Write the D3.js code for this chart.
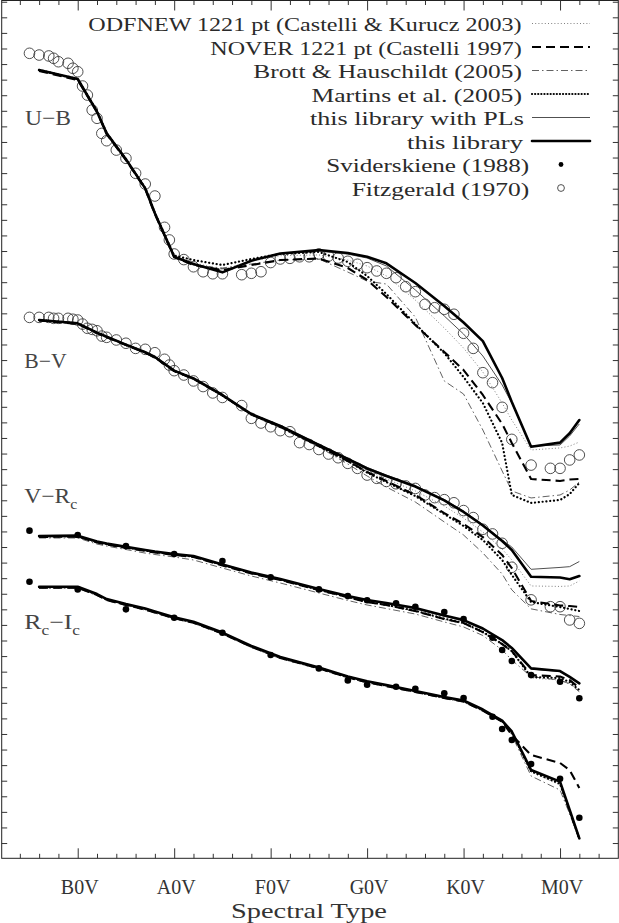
<!DOCTYPE html>
<html><head><meta charset="utf-8">
<script src="https://cdn.jsdelivr.net/npm/d3@7"></script>
<style>html,body{margin:0;padding:0;background:#fff;} svg{display:block;font-family:"Liberation Serif","DejaVu Serif",serif;}</style>
</head><body><svg id="c" width="619" height="923"></svg>
<script>
// ---------- DATA ----------
// spectral type code: O=0, B=10, A=20, F=30, G=40, K=50, M=60 (+subtype)
const sptGrid = [6,10,12,13,15,17,18,20,22,25,28,31,35,38,40,42,45,48,50,52,54,55,57,60,61,62];
const majorTicks = [10,20,30,40,50,60];
const tickLabels = ['B0V','A0V','F0V','G0V','K0V','M0V'];
const colorNames = ['U\u2212B','B\u2212V','V\u2212R','R\u2212I'];
const colorOffsets = [0, 0.75, 1.9, 2.35];   // vertical shifts of each colour

// U-B
const ubLib     = [-1.162,-1.104,-0.894,-0.755,-0.589,-0.402,-0.242,0.037,0.083,0.137,0.062,0.016,-0.006,0.013,0.037,0.079,0.205,0.353,0.459,0.578,0.815,0.969,1.256,1.230,1.170,1.085];
const ubPL      = [-1.162,-1.104,-0.894,-0.755,-0.589,-0.402,-0.242,0.037,0.083,0.135,0.062,0.018,0.000,0.020,0.045,0.096,0.250,0.417,0.533,0.674,0.860,0.976,1.252,1.245,1.187,1.110];
const ubODF     = [-1.158,-1.100,-0.892,-0.753,-0.587,-0.400,-0.240,0.035,0.075,0.120,0.065,0.030,0.025,0.058,0.096,0.160,0.315,0.494,0.623,0.777,0.976,1.085,1.277,1.264,1.252,1.226];
const ubNOVER   = [-1.155,-1.098,-0.892,-0.751,-0.584,-0.398,-0.237,0.039,0.090,0.122,0.090,0.058,0.048,0.109,0.186,0.295,0.475,0.648,0.764,0.924,1.110,1.232,1.463,1.476,1.467,1.463];
const ubMartins = [-1.162,-1.104,-0.899,-0.757,-0.590,-0.404,-0.244,0.029,0.058,0.090,0.051,0.019,0.006,0.071,0.160,0.276,0.469,0.655,0.809,0.976,1.232,1.566,1.617,1.598,1.560,1.489];
const ubBrott   = [-1.155,-1.098,-0.892,-0.751,-0.584,-0.398,-0.237,0.039,0.090,0.109,0.083,0.058,0.051,0.135,0.193,0.212,0.424,0.834,0.918,1.149,1.412,1.540,1.585,1.566,1.534,1.483];
// B-V
const bvLib     = [-0.307,-0.286,-0.226,-0.200,-0.149,-0.100,-0.070,0.018,0.068,0.174,0.296,0.373,0.495,0.585,0.646,0.694,0.762,0.851,0.925,1.012,1.111,1.169,1.341,1.346,1.357,1.336];
const bvPL      = [-0.307,-0.286,-0.226,-0.200,-0.149,-0.100,-0.070,0.018,0.068,0.174,0.296,0.370,0.490,0.580,0.639,0.688,0.755,0.845,0.919,1.005,1.105,1.150,1.293,1.281,1.276,1.243];
const bvODF     = [-0.304,-0.283,-0.223,-0.197,-0.146,-0.097,-0.067,0.021,0.071,0.177,0.299,0.378,0.500,0.591,0.659,0.713,0.790,0.887,0.964,1.054,1.163,1.233,1.400,1.403,1.400,1.368];
const bvNOVER   = [-0.304,-0.283,-0.223,-0.197,-0.146,-0.097,-0.067,0.021,0.071,0.177,0.299,0.378,0.502,0.598,0.668,0.726,0.816,0.932,1.002,1.086,1.201,1.285,1.497,1.525,1.529,1.535];
const bvMartins = [-0.307,-0.286,-0.226,-0.200,-0.149,-0.100,-0.070,0.018,0.068,0.177,0.299,0.378,0.502,0.598,0.672,0.733,0.823,0.938,1.015,1.105,1.233,1.329,1.503,1.535,1.548,1.561];
const bvBrott   = [-0.300,-0.280,-0.220,-0.194,-0.143,-0.094,-0.064,0.024,0.074,0.183,0.305,0.385,0.508,0.617,0.694,0.765,0.861,0.989,1.073,1.188,1.323,1.425,1.547,1.583,1.590,1.596];
// V-Rc
const vrLib     = [-0.071,-0.073,-0.035,-0.022,-0.001,0.019,0.029,0.045,0.058,0.112,0.164,0.205,0.270,0.315,0.340,0.359,0.392,0.440,0.469,0.523,0.597,0.648,0.779,0.796,0.834,0.875];
const vrPL      = [-0.068,-0.070,-0.032,-0.019,0.002,0.022,0.032,0.048,0.061,0.115,0.167,0.208,0.273,0.318,0.343,0.362,0.396,0.444,0.474,0.528,0.602,0.653,0.783,0.799,0.836,0.877];
const vrODF     = [-0.065,-0.067,-0.029,-0.016,0.005,0.025,0.035,0.051,0.064,0.118,0.170,0.212,0.278,0.324,0.356,0.376,0.414,0.466,0.493,0.551,0.628,0.672,0.841,0.854,0.879,0.918];
const vrNOVER   = [-0.065,-0.067,-0.029,-0.016,0.005,0.025,0.035,0.051,0.064,0.118,0.170,0.211,0.276,0.322,0.353,0.372,0.411,0.462,0.488,0.546,0.623,0.668,0.822,0.831,0.854,0.905];
const vrMartins = [-0.068,-0.070,-0.032,-0.019,0.002,0.022,0.032,0.048,0.061,0.115,0.167,0.209,0.275,0.321,0.352,0.371,0.409,0.460,0.487,0.545,0.622,0.668,0.834,0.841,0.867,0.918];
const vrBrott   = [-0.058,-0.058,-0.019,-0.006,0.016,0.039,0.048,0.064,0.083,0.135,0.186,0.231,0.295,0.343,0.372,0.395,0.430,0.481,0.513,0.568,0.661,0.725,0.832,0.854,0.879,0.929];
// Rc-Ic
const riLib     = [-0.195,-0.195,-0.148,-0.116,-0.084,-0.055,-0.036,0.001,0.030,0.099,0.185,0.256,0.323,0.381,0.412,0.436,0.474,0.513,0.535,0.593,0.664,0.734,0.981,1.056,1.238,1.420];
const riPL      = [-0.195,-0.195,-0.148,-0.116,-0.084,-0.055,-0.036,0.001,0.030,0.099,0.185,0.256,0.323,0.381,0.412,0.436,0.474,0.513,0.537,0.596,0.668,0.738,0.985,1.060,1.242,1.424];
const riODF     = [-0.189,-0.189,-0.142,-0.110,-0.078,-0.049,-0.030,0.007,0.036,0.105,0.191,0.262,0.329,0.387,0.418,0.442,0.480,0.519,0.542,0.600,0.672,0.745,0.994,1.078,1.251,1.425];
const riNOVER   = [-0.189,-0.189,-0.142,-0.110,-0.078,-0.049,-0.030,0.007,0.036,0.105,0.191,0.262,0.329,0.387,0.418,0.442,0.480,0.519,0.542,0.600,0.672,0.757,0.885,0.936,0.982,1.097];
const riMartins = [-0.192,-0.192,-0.145,-0.113,-0.081,-0.052,-0.033,0.004,0.033,0.102,0.188,0.259,0.326,0.384,0.415,0.439,0.477,0.516,0.539,0.597,0.668,0.740,0.990,1.070,1.246,1.423];
const riBrott   = [-0.185,-0.185,-0.138,-0.106,-0.074,-0.045,-0.026,0.011,0.040,0.109,0.195,0.266,0.333,0.391,0.422,0.446,0.484,0.523,0.546,0.604,0.673,0.757,1.020,1.110,1.264,1.431];

// Fitzgerald (1970): U-B and B-V
const fitzSpT = [5,6,7,7.5,8,9,9.5,10,10.5,11,11.5,12,12.5,13,14,15,16,17,18,19,19.5,20,21,22,23,24,25,27,28,29,30,31,32,33,34,35,36,37,38,39,40,41,42,43,44,45,46,47,48,49,50,51,52,53,54,55,57,59,60,61,62];
const fitzUB = [-1.269,-1.258,-1.252,-1.237,-1.215,-1.205,-1.173,-1.151,-1.059,-1.001,-0.905,-0.852,-0.755,-0.708,-0.648,-0.595,-0.499,-0.430,-0.353,-0.152,-0.071,0.019,0.055,0.101,0.133,0.146,0.146,0.152,0.143,0.133,0.074,0.051,0.047,0.037,0.037,0.019,0.032,0.045,0.066,0.085,0.107,0.128,0.143,0.171,0.229,0.261,0.342,0.364,0.374,0.406,0.528,0.625,0.781,0.845,1.003,1.209,1.374,1.395,1.395,1.341,1.309];
const fitzBV = [-0.324,-0.324,-0.324,-0.318,-0.318,-0.318,-0.312,-0.307,-0.281,-0.254,-0.247,-0.238,-0.204,-0.196,-0.179,-0.158,-0.125,-0.119,-0.097,-0.055,-0.018,0.018,0.046,0.084,0.120,0.161,0.190,0.242,0.324,0.354,0.378,0.403,0.410,0.480,0.492,0.524,0.553,0.577,0.613,0.645,0.688,0.709,0.729,0.744,0.758,0.774,0.816,0.833,0.846,0.866,0.916,0.961,1.036,1.066,1.126,1.280,1.489,1.533,1.533,1.618,1.640];
// Sviderskiene (1988): V-Rc and Rc-Ic
const svSpT = [5,10,15,20,25,30,35,38,40,43,45,48,50,53,54,55,57,60,62];
const svVR = [-0.105,-0.077,-0.006,0.045,0.090,0.194,0.272,0.315,0.342,0.361,0.383,0.417,0.463,0.582,0.661,0.732,0.822,0.865,0.971];
const svRI = [-0.227,-0.178,-0.050,0.004,0.100,0.243,0.329,0.406,0.434,0.447,0.460,0.489,0.519,0.639,0.718,0.789,0.943,1.037,1.288];

const legendLabels = ['ODFNEW 1221 pt (Castelli & Kurucz 2003)','NOVER 1221 pt (Castelli 1997)','Brott & Hauschildt (2005)','Martins et al. (2005)','this library with PLs','this library','Sviderskiene (1988)','Fitzgerald (1970)'];

// ---------- DRAWING ----------
const svg = d3.select('#c');
const X0 = 1.7, X1 = 618.3, Y0 = 0.5, Y1 = 858.3;
const x = d3.scaleLinear().domain([2.12, 66.04]).range([X0, X1]);
const y = d3.scaleLinear().domain([-1.608, 3.898]).range([Y0, Y1]);

const styles = {
  odf:     {stroke:'#808080', w:1.0, dash:'1,2.2', cap:'butt'},
  brott:   {stroke:'#3a3a3a', w:0.8, dash:'7,3,1.5,3', cap:'butt'},
  pl:      {stroke:'#505050', w:1.0, dash:null, cap:'butt'},
  nover:   {stroke:'#000', w:2.1, dash:'9,5', cap:'butt'},
  martins: {stroke:'#000', w:2.2, dash:'0.1,3.7', cap:'round'},
  lib:     {stroke:'#000', w:2.6, dash:null, cap:'round'}
};
const models = [
  {key:'odf',     sets:[ubODF, bvODF, vrODF, riODF]},
  {key:'brott',   sets:[ubBrott, bvBrott, vrBrott, riBrott]},
  {key:'pl',      sets:[ubPL, bvPL, vrPL, riPL]},
  {key:'nover',   sets:[ubNOVER, bvNOVER, vrNOVER, riNOVER]},
  {key:'martins', sets:[ubMartins, bvMartins, vrMartins, riMartins]},
  {key:'lib',     sets:[ubLib, bvLib, vrLib, riLib]}
];

// observed points (open circles under lines)
const gPts = svg.append('g');
[[fitzUB,0],[fitzBV,1]].forEach(([vals,k]) => {
  gPts.selectAll(null).data(vals).enter().append('circle')
    .attr('cx',(d,i)=>x(fitzSpT[i])).attr('cy',d=>y(d+colorOffsets[k]))
    .attr('r',5.3).attr('fill','none').attr('stroke','#3c3c3c').attr('stroke-width',0.9);
});

const gLines = svg.append('g');
models.forEach(m => {
  const st = styles[m.key];
  m.sets.forEach((vals,k) => {
    const line = d3.line().x((d,i)=>x(sptGrid[i])).y(d=>y(d+colorOffsets[k]));
    gLines.append('path').attr('d', line(vals)).attr('fill','none')
      .attr('stroke', st.stroke).attr('stroke-width', st.w)
      .attr('stroke-dasharray', st.dash).attr('stroke-linecap', st.cap)
      .attr('stroke-linejoin','round');
  });
});

[[svVR,2],[svRI,3]].forEach(([vals,k]) => {
  svg.append('g').selectAll('circle').data(vals).enter().append('circle')
    .attr('cx',(d,i)=>x(svSpT[i])).attr('cy',d=>y(d+colorOffsets[k]))
    .attr('r',3.3).attr('fill','#000');
});

// frame & axes
svg.append('rect').attr('x',X0).attr('y',Y0).attr('width',X1-X0).attr('height',Y1-Y0)
  .attr('fill','none').attr('stroke','#222').attr('stroke-width',1);
const minorT = d3.range(4, 66, 2).filter(v => v % 10 !== 0);
const yTicks = d3.range(-16, 39).map(k => k/10);
function styleAxis(g){ g.select('.domain').remove(); g.selectAll('line').attr('stroke','#333').attr('stroke-width',1); return g; }
svg.append('g').attr('transform',`translate(0,${Y1})`)
  .call(d3.axisBottom(x).tickValues(minorT).tickSize(-4.5).tickSizeOuter(0).tickFormat('')).call(styleAxis);
const gMaj = svg.append('g').attr('transform',`translate(0,${Y1})`)
  .call(d3.axisBottom(x).tickValues(majorTicks).tickSize(-10).tickSizeOuter(0).tickPadding(21.5)
    .tickFormat((d,i)=>tickLabels[i])).call(styleAxis);
gMaj.attr('font-family','"Liberation Serif",serif').attr('font-size',20);
gMaj.selectAll('text').attr('fill','#333').attr('dx',1.5);
svg.append('g').attr('transform',`translate(0,${Y0})`)
  .call(d3.axisTop(x).tickValues(minorT).tickSize(-4.5).tickSizeOuter(0).tickFormat('')).call(styleAxis);
svg.append('g').attr('transform',`translate(0,${Y0})`)
  .call(d3.axisTop(x).tickValues(majorTicks).tickSize(-10).tickSizeOuter(0).tickFormat('')).call(styleAxis);
svg.append('g').attr('transform',`translate(${X0},0)`)
  .call(d3.axisLeft(y).tickValues(yTicks).tickSize(-5.5).tickSizeOuter(0).tickFormat('')).call(styleAxis);
svg.append('g').attr('transform',`translate(${X1},0)`)
  .call(d3.axisRight(y).tickValues(yTicks).tickSize(-5.5).tickSizeOuter(0).tickFormat('')).call(styleAxis);

// text fitting helper
function fit(t, left, base, width){
  t.attr('x',0).attr('y',0);
  const w = t.node().getBBox().width;
  t.attr('transform',`translate(${left},${base}) scale(${width/w},1)`);
}

// axis title
fit(svg.append('text').attr('font-size',21).attr('fill','#333').text('Spectral Type'), 231, 918, 156);

// panel labels
const lab = [
  {parts:[[colorNames[0],0]], left:25, base:124.5, w:46},
  {parts:[[colorNames[1],0]], left:24.3, base:368.3, w:42.4},
  {parts:[[colorNames[2],0],['c',1]], left:24.3, base:502.7, w:53},
  {parts:[['R',0],['c',1],['\u2212I',0],['c',1]], left:24.3, base:629.3, w:55.7}
];
lab.forEach(L => {
  const t = svg.append('text').attr('font-size',21).attr('fill','#444');
  let sub = false;
  L.parts.forEach(([s,isSub]) => {
    const ts = t.append('tspan').text(s);
    if (isSub && !sub) { ts.attr('dy',6).attr('font-size',14); sub = true; }
    else if (!isSub && sub) { ts.attr('dy',-6); sub = false; }
    else if (isSub) ts.attr('font-size',14);
  });
  fit(t, L.left, L.base, L.w);
});

// legend
const legRight = [522,522,522,522,524,523,529.3,529.3];
const legWidth = [433.7,311.7,268.7,210.5,214,116,203,177.6];
const legKeys = ['odf','nover','brott','martins','pl','lib'];
legendLabels.forEach((s,i) => {
  const ly = 23.5 + 23.5*i;
  const t = svg.append('text').attr('font-size',18).attr('fill','#2a2a2a').text(s);
  fit(t, legRight[i]-legWidth[i], ly+7.5, legWidth[i]);
  if (i < 6) {
    const st = styles[legKeys[i]];
    svg.append('line').attr('x1',532).attr('x2',590).attr('y1',ly).attr('y2',ly)
      .attr('stroke',st.stroke).attr('stroke-width',st.w)
      .attr('stroke-dasharray', i===3 ? '0.1,3' : st.dash).attr('stroke-linecap',st.cap);
  } else if (i === 6) {
    svg.append('circle').attr('cx',561).attr('cy',ly).attr('r',2.4).attr('fill','#000');
  } else {
    svg.append('circle').attr('cx',561).attr('cy',ly).attr('r',3.4).attr('fill','none')
      .attr('stroke','#3c3c3c').attr('stroke-width',0.9);
  }
});
</script></body></html>
